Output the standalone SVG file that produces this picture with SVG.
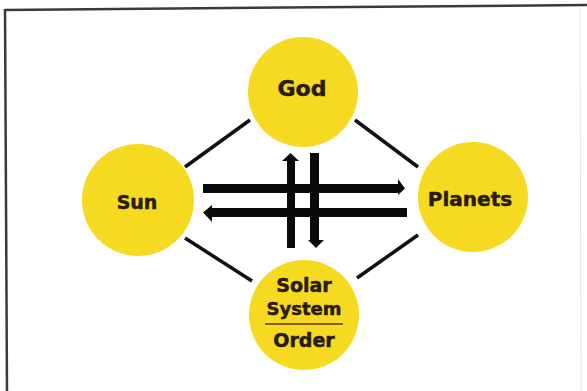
<svg xmlns="http://www.w3.org/2000/svg" width="587" height="391" viewBox="0 0 587 391">
  <style>
    .node circle { fill: #f6da22; }
    .lbl { font-family: "DejaVu Sans", "Liberation Sans", sans-serif; font-weight: bold; fill: #2a1c0c; stroke: #2a1c0c; stroke-width: 0.5; text-anchor: middle; }
    .edge { stroke: #111; stroke-width: 3.5; fill: none; }
    .arrow { fill: #0a0a0a; }
    .frame { stroke: #3a3a3a; stroke-width: 2.5; fill: none; }
  </style>
  <rect width="587" height="391" fill="#ffffff"/>
  <g id="frame">
    <line class="frame" x1="5" y1="10" x2="587" y2="5"/>
    <line class="frame" x1="5" y1="9" x2="7" y2="391"/>
    <line x1="580" y1="6" x2="581" y2="391" stroke="#e4e4e4" stroke-width="1"/>
  </g>
  <g id="connectors">
    <line class="edge" x1="250" y1="120" x2="185" y2="167"/>
    <line class="edge" x1="355" y1="120" x2="418" y2="167"/>
    <line class="edge" x1="185" y1="238" x2="252" y2="281"/>
    <line class="edge" x1="418" y1="235" x2="357" y2="278"/>
    <!-- Sun -> Planets -->
    <polygon class="arrow" points="203,184 398,184 398,179 405,188.5 398,195 398,193 203,193"/>
    <!-- Planets -> Sun -->
    <polygon class="arrow" points="407,208 212,208 212,205 203,212.5 212,222 212,217 407,217"/>
    <!-- Solar -> God -->
    <polygon class="arrow" points="287,248 287,161 282,161 290.5,153 299,161 295,161 295,248"/>
    <!-- God -> Solar -->
    <polygon class="arrow" points="310,153 319,153 319,240 324,240 316,248 308,240 310,240"/>
  </g>
  <g id="god" class="node">
    <circle cx="303" cy="92" r="55"/>
    <text class="lbl" x="302" y="96" font-size="22">God</text>
  </g>
  <g id="sun" class="node">
    <circle cx="138" cy="200" r="56"/>
    <text class="lbl" x="137" y="209" font-size="19">Sun</text>
  </g>
  <g id="planets" class="node">
    <circle cx="473" cy="197" r="55"/>
    <text class="lbl" x="470" y="206" font-size="20">Planets</text>
  </g>
  <g id="solar" class="node">
    <circle cx="304" cy="315" r="55"/>
    <text class="lbl" x="304" y="292" font-size="19">Solar</text>
    <text class="lbl" x="304" y="315" font-size="18">System</text>
    <line x1="265" y1="324" x2="343" y2="324" stroke="#8a5a10" stroke-width="2"/>
    <text class="lbl" x="304" y="347" font-size="19">Order</text>
  </g>
</svg>
